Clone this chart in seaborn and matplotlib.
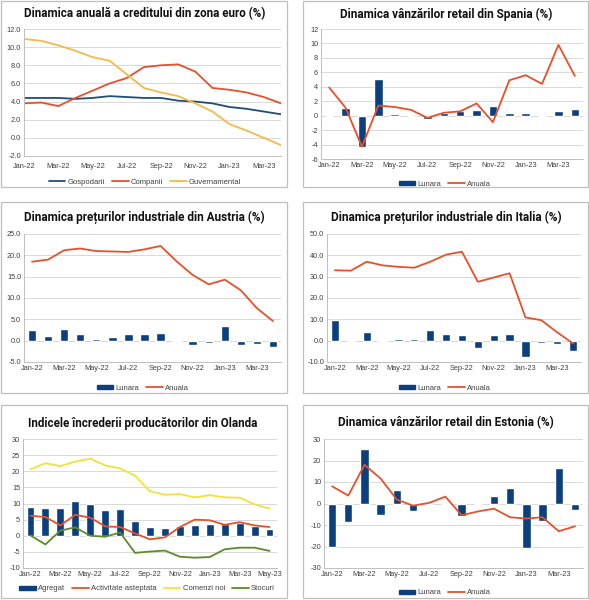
import numpy as np
import pandas as pd
import matplotlib
matplotlib.use("Agg")
import matplotlib.pyplot as plt
from matplotlib.patches import Rectangle
import seaborn as sns

sns.set_theme(style="white")
plt.rcParams["font.family"] = ["Liberation Sans", "DejaVu Sans"]

# ---------------- data ----------------
months16 = ["Jan-22", "Feb-22", "Mar-22", "Apr-22", "May-22", "Jun-22", "Jul-22", "Aug-22",
            "Sep-22", "Oct-22", "Nov-22", "Dec-22", "Jan-23", "Feb-23", "Mar-23", "Apr-23"]
months17 = months16 + ["May-23"]

# Euro area credit
credit_gospodarii = [4.4, 4.4, 4.4, 4.3, 4.4, 4.6, 4.5, 4.4, 4.4, 4.1, 4.0, 3.8, 3.4, 3.2, 2.9, 2.6]
credit_companii = [3.8, 3.9, 3.5, 4.4, 5.2, 6.0, 6.6, 7.8, 8.0, 8.1, 7.3, 5.5, 5.3, 5.0, 4.5, 3.8]
credit_guvern = [10.9, 10.7, 10.2, 9.6, 8.9, 8.5, 7.0, 5.5, 5.0, 4.6, 3.8, 2.9, 1.5, 0.8, 0.0, -0.8]

# Spain retail
spain_lunara = [-0.1, 1.0, -4.4, 5.1, 0.2, -0.1, -0.4, 0.4, 0.6, 0.8, 1.4, 0.4, 0.4, 0.0, 0.7, 0.9]
spain_anuala = [3.9, 1.1, -4.3, 1.4, 1.2, 0.8, -0.3, 0.4, 0.6, 1.7, -0.9, 4.9, 5.6, 4.4, 9.8, 5.5]

# Austria PPI
austria_lunara = [2.5, 1.2, 2.8, 1.5, 0.4, 0.9, 1.5, 1.5, 1.9, 0.1, -1.1, -0.5, 3.5, -1.1, -0.8, -1.5]
austria_anuala = [18.5, 19.0, 21.2, 21.6, 21.0, 20.9, 20.8, 21.4, 22.2, 18.6, 15.4, 13.2, 14.3, 11.8, 7.6, 4.6]

# Italy PPI
italy_lunara = [9.8, 0.4, 4.0, 0.2, 0.7, 0.8, 4.9, 3.0, 2.7, -3.5, 2.7, 3.0, -7.5, -1.1, -1.5, -4.9]
italy_anuala = [33.0, 32.8, 37.0, 35.3, 34.6, 34.2, 37.0, 40.3, 41.7, 27.6, 29.6, 31.6, 10.9, 9.6, 3.9, -1.3]

# Netherlands producer confidence
nl_agregat = [9.0, 8.6, 8.7, 10.8, 9.9, 8.1, 8.4, 4.5, 2.6, 2.4, 3.0, 3.2, 3.5, 3.5, 4.1, 3.0, 2.0]
nl_activitate = [6.2, 5.8, 3.2, 6.5, 5.6, 2.9, 2.7, 0.7, -1.1, -0.5, 2.7, 5.0, 4.8, 3.4, 4.2, 3.2, 2.7]
nl_comenzi = [20.6, 22.5, 21.6, 23.0, 23.9, 21.8, 20.9, 18.6, 13.8, 12.7, 12.9, 11.9, 12.6, 11.9, 11.8, 9.7, 8.4]
nl_stocuri = [0.1, -2.7, 1.6, 2.6, 0.0, -0.3, 1.0, -5.3, -4.9, -4.6, -6.5, -6.8, -6.6, -4.2, -3.7, -3.7, -4.7]

# Estonia retail
est_lunara = [-20.3, -8.8, 25.3, -5.5, 6.3, -3.3, 0.0, 0.0, -5.8, 0.0, 3.4, 7.2, -20.5, -8.0, 16.4, -3.2]
est_anuala = [8.0, 3.7, 18.0, 11.6, 1.8, -1.0, 0.3, 3.2, -5.5, -3.7, -2.4, -6.4, -7.0, -6.4, -12.9, -10.6]

# ---------------- style ----------------
BLUE_BAR = "#0c3f7d"
RED = "#e8502b"
NAVY = "#1f4e79"
ORANGE_Y = "#f5b94a"
YELLOW = "#f3e13a"
GREEN = "#5b8c2a"
GRID = "#d9d9d9"
TXT = "#404040"

W, H = 589, 600
fig = plt.figure(figsize=(W / 100, H / 100), dpi=100)
fig.patch.set_facecolor("white")
renderer = fig.canvas.get_renderer()


def px_axes(l, r, t, b):
    return fig.add_axes([l / W, 1 - b / H, (r - l) / W, (b - t) / H])


def box(l, r, t, b):
    fig.add_artist(Rectangle((l / W, 1 - b / H), (r - l) / W, (b - t) / H,
                             transform=fig.transFigure, fill=False,
                             edgecolor="#bfbfbf", lw=0.9))


def title(x, y, s, target_w):
    t = fig.text(x / W, 1 - y / H, s, ha="center", va="center", fontsize=9,
                 fontweight="bold", family=["Roboto", "Liberation Sans", "DejaVu Sans"],
                 color="#111111")
    w = t.get_window_extent(renderer).width
    t.set_fontsize(min(9 * 1.18 * target_w / w, 9.0))


def style(ax, ylim, step, fmt, labels, xlim, xpad=2):
    ax.set_ylim(*ylim)
    ticks = np.arange(ylim[0], ylim[1] + step / 2, step)
    ax.set_yticks(ticks)
    ax.set_yticklabels([fmt.format(v) for v in ticks])
    ax.set_xlim(*xlim)
    idx = list(range(0, len(labels), 2))
    ax.set_xticks(idx)
    ax.set_xticklabels([labels[i] for i in idx])
    ax.yaxis.grid(True, color=GRID, lw=0.7)
    ax.xaxis.grid(False)
    ax.set_axisbelow(True)
    for s in ["top", "right"]:
        ax.spines[s].set_visible(False)
    for s in ["left", "bottom"]:
        ax.spines[s].set_color("#bfbfbf")
        ax.spines[s].set_linewidth(0.7)
    ax.tick_params(axis="both", labelsize=5.3, colors=TXT, length=0, pad=2)
    ax.tick_params(axis="x", pad=xpad)
    ax.set_xlabel("")
    ax.set_ylabel("")
    if ax.get_legend() is not None:
        ax.get_legend().remove()


def legend(handles, labels, x, y):
    fig.legend(handles, labels, loc="center", bbox_to_anchor=(x / W, 1 - y / H),
               ncol=len(labels), frameon=False, fontsize=5.5, handlelength=2.2,
               handleheight=0.5, columnspacing=0.9, handletextpad=0.3,
               labelcolor=TXT)


def bar_line_panel(ax, lunara, anuala, labels):
    n = len(labels)
    df = pd.DataFrame({"x": range(n), "Lunara": lunara, "Anuala": anuala})
    sns.barplot(data=df, x="x", y="Lunara", color=BLUE_BAR, width=0.52, ax=ax,
                saturation=1)
    sns.lineplot(data=df, x="x", y="Anuala", color=RED, lw=1.3, ax=ax)
    return [Rectangle((0, 0), 1, 1, color=BLUE_BAR),
            plt.Line2D([0], [0], color=RED, lw=1.3)]


# ---------- Panel 1 ----------
box(1, 287, 1, 187)
ax1 = px_axes(24, 281, 29, 156)
df1 = pd.DataFrame({"x": range(16), "Gospodarii": credit_gospodarii,
                    "Companii": credit_companii, "Guvernamental": credit_guvern})
sns.lineplot(data=df1, x="x", y="Gospodarii", color=NAVY, lw=1.3, ax=ax1)
sns.lineplot(data=df1, x="x", y="Companii", color=RED, lw=1.3, ax=ax1)
sns.lineplot(data=df1, x="x", y="Guvernamental", color=ORANGE_Y, lw=1.3, ax=ax1)
style(ax1, (-2, 12), 2, "{:.1f}", months16, (0, 15), xpad=5)
title(145, 14, "Dinamica anuală a creditului din zona euro (%)", 203)
legend([plt.Line2D([0], [0], color=c, lw=1.3) for c in (NAVY, RED, ORANGE_Y)],
       ["Gospodarii", "Companii", "Guvernamental"], 145, 182)

# ---------- Panel 2 ----------
box(303, 588, 1, 187)
ax2 = px_axes(321, 583, 29, 159)
h = bar_line_panel(ax2, spain_lunara, spain_anuala, months16)
style(ax2, (-6, 12), 2, "{:.0f}", months16, (-0.5, 15.5))
title(446, 14, "Dinamica vânzărilor retail din Spania (%)", 180)
legend(h, ["Lunara", "Anuala"], 445, 184)

# ---------- Panel 3 ----------
box(1, 287, 202, 393)
ax3 = px_axes(24, 281, 234, 362)
h = bar_line_panel(ax3, austria_lunara, austria_anuala, months16)
style(ax3, (-5, 25), 5, "{:.1f}", months16, (-0.5, 15.5))
title(144, 217, "Dinamica prețurilor industriale din Austria (%)", 204)
legend(h, ["Lunara", "Anuala"], 143, 388)

# ---------- Panel 4 ----------
box(303, 588, 202, 393)
ax4 = px_axes(327, 581, 234, 362)
h = bar_line_panel(ax4, italy_lunara, italy_anuala, months16)
style(ax4, (-10, 50), 10, "{:.1f}", months16, (-0.5, 15.5))
title(446, 217, "Dinamica prețurilor industriale din Italia (%)", 195)
legend(h, ["Lunara", "Anuala"], 445, 388)

# ---------- Panel 5 ----------
box(1, 287, 405, 598)
ax5 = px_axes(23, 277, 439, 568)
df5 = pd.DataFrame({"x": range(17), "Agregat": nl_agregat, "Activitate": nl_activitate,
                    "Comenzi": nl_comenzi, "Stocuri": nl_stocuri})
sns.barplot(data=df5, x="x", y="Agregat", color=BLUE_BAR, width=0.53, ax=ax5,
            saturation=1)
sns.lineplot(data=df5, x="x", y="Activitate", color=RED, lw=1.3, ax=ax5)
sns.lineplot(data=df5, x="x", y="Comenzi", color=YELLOW, lw=1.3, ax=ax5)
sns.lineplot(data=df5, x="x", y="Stocuri", color=GREEN, lw=1.3, ax=ax5)
style(ax5, (-10, 30), 5, "{:.0f}", months17, (-0.5, 16.5))
title(143, 423, "Indicele încrederii producătorilor din Olanda", 195)
legend([Rectangle((0, 0), 1, 1, color=BLUE_BAR)] +
       [plt.Line2D([0], [0], color=c, lw=1.3) for c in (RED, YELLOW, GREEN)],
       ["Agregat", "Activitate asteptata", "Comenzi noi", "Stocuri"], 147, 589)

# ---------- Panel 6 ----------
box(303, 588, 405, 598)
ax6 = px_axes(324, 583, 439, 568)
h = bar_line_panel(ax6, est_lunara, est_anuala, months16)
style(ax6, (-30, 30), 10, "{:.0f}", months16, (-0.5, 15.5))
title(446, 423, "Dinamica vânzărilor retail din Estonia (%)", 182)
legend(h, ["Lunara", "Anuala"], 445, 593)

fig.savefig("out.png", dpi=100, facecolor="white")
